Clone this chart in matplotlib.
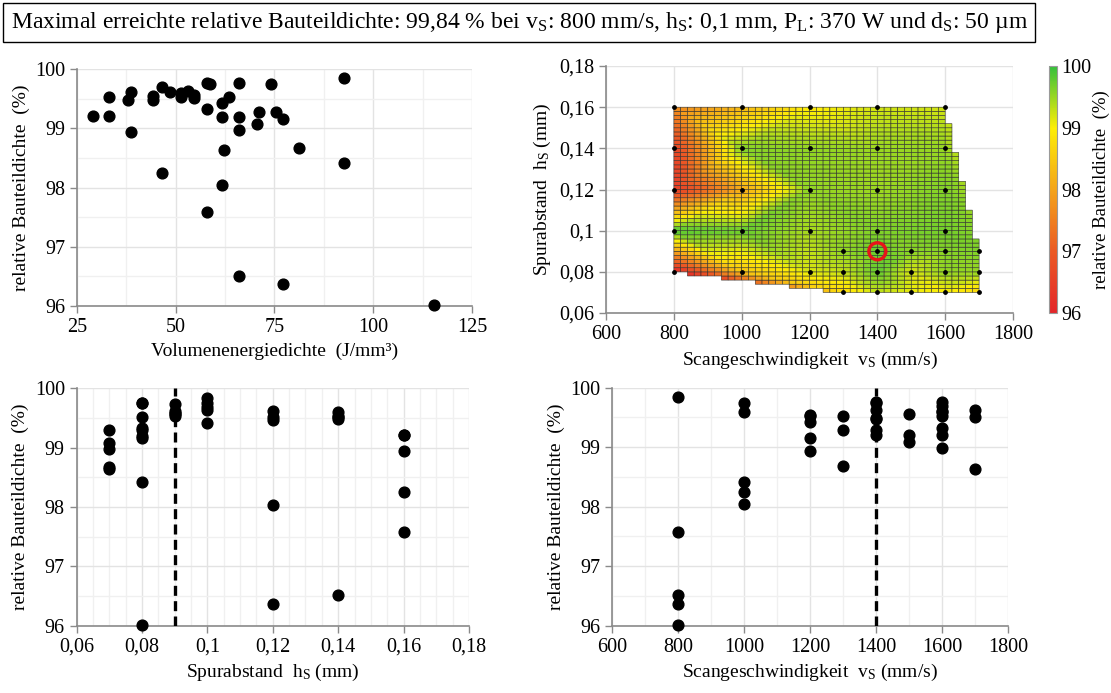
import numpy as np
import pandas as pd
import matplotlib
matplotlib.use("Agg")
import matplotlib.pyplot as plt
import matplotlib.tri as mtri
from matplotlib.colors import LinearSegmentedColormap
from matplotlib.ticker import FuncFormatter, MultipleLocator

plt.rcParams["font.family"] = ["Liberation Serif", "DejaVu Serif"]
plt.rcParams["mathtext.fontset"] = "custom"
plt.rcParams["mathtext.rm"] = "Liberation Serif"
plt.rcParams["mathtext.it"] = "Liberation Serif:italic"

# ---------------- Versuchsplan ----------------
# Scangeschwindigkeit v_S (mm/s), Spurabstand h_S (mm), relative Bauteildichte (%)
scan_speed = [800, 800, 800, 800, 800,
              1000, 1000, 1000, 1000, 1000,
              1200, 1200, 1200, 1200, 1200,
              1300, 1300, 1300,
              1400, 1400, 1400, 1400, 1400, 1400, 1400,
              1500, 1500, 1500,
              1600, 1600, 1600, 1600, 1600, 1600, 1600, 1600,
              1700, 1700, 1700]
hatch_distance = [0.08, 0.10, 0.12, 0.14, 0.16,
                  0.08, 0.10, 0.12, 0.14, 0.16,
                  0.08, 0.10, 0.12, 0.14, 0.16,
                  0.07, 0.08, 0.09,
                  0.07, 0.08, 0.09, 0.10, 0.12, 0.14, 0.16,
                  0.07, 0.08, 0.09,
                  0.07, 0.08, 0.09, 0.10, 0.12, 0.14, 0.16, 0.08,
                  0.07, 0.08, 0.09]
density = [96.02, 99.84, 96.37, 96.52, 97.58,
           98.42, 99.75, 98.04, 99.60, 98.25,
           99.16, 99.42, 99.52, 99.54, 98.94,
           98.68, 99.29, 99.53,
           99.29, 99.76, 99.74, 99.63, 99.47, 99.49, 99.21,
           99.08, 99.20, 99.56,
           98.98, 99.33, 99.59, 99.69, 99.61, 99.52, 99.21, 99.76,
           98.64, 99.51, 99.62]

# Volumenenergiedichte (J/mm³) und zugehörige Dichte (%)
energy_density = [29.1, 33.2, 33.2, 37.8, 38.6, 38.6, 44.2, 44.2, 46.4, 46.4,
                  48.5, 51.4, 51.4, 53.0, 54.5, 54.5, 57.9, 58.8, 57.9, 57.9,
                  61.8, 61.8, 61.8, 62.3, 63.4, 66.0, 66.0, 66.0, 66.0, 70.5,
                  71.1, 74.0, 75.5, 77.1, 77.1, 81.3, 92.5, 92.5, 115.5]
energy_rel_density = [99.20, 99.20, 99.52, 99.48, 99.61, 98.94, 99.54, 99.47, 99.69, 98.24,
                      99.61, 99.59, 99.53, 99.63, 99.57, 99.51, 99.76, 99.74, 99.32, 97.58,
                      99.43, 99.19, 98.04, 98.64, 99.53, 99.76, 99.19, 98.97, 96.51, 99.07,
                      99.28, 99.75, 99.28, 99.15, 96.37, 98.67, 99.85, 98.41, 96.01]

# gewählter Parameterpunkt
opt_speed = 1400
opt_hatch = 0.09

df = pd.DataFrame({"v": scan_speed, "h": hatch_distance, "rho": density})

# ---------------- Farbskala ----------------
cmap = LinearSegmentedColormap.from_list(
    "dichte",
    [(0.00, "#e3262a"), (0.25, "#eb5a24"), (0.50, "#f4a41a"),
     (0.75, "#fdee06"), (1.00, "#36c03c")])

fig = plt.figure(figsize=(11.11, 6.93), dpi=100)

TICK_FS = 14.5
LABEL_FS = 14
GRID_MAJOR = "#e3e3e3"
GRID_MINOR = "#f0f0f0"
SPINE = "#8a8a8a"


def comma():
    return FuncFormatter(lambda val, pos: f"{val:g}".replace(".", ","))


def style_axes(ax):
    for side in ("top", "right"):
        ax.spines[side].set_visible(False)
    for side in ("left", "bottom"):
        ax.spines[side].set_color(SPINE)
        ax.spines[side].set_linewidth(1.2)
    ax.tick_params(axis="both", which="major", direction="out", length=5,
                   color=SPINE, labelsize=TICK_FS, width=1.0)
    ax.tick_params(axis="both", which="minor", length=0)
    ax.grid(True, which="major", color=GRID_MAJOR, linewidth=1.0)
    ax.grid(True, which="minor", color=GRID_MINOR, linewidth=1.0)
    ax.set_axisbelow(True)


def density_axis(ax):
    ax.set_ylim(96, 100)
    ax.yaxis.set_major_locator(MultipleLocator(1))
    ax.yaxis.set_minor_locator(MultipleLocator(0.5))
    ax.set_ylabel("relative Bauteildichte  (%)", fontsize=LABEL_FS)


MS = 60

# ---------------- oben links: Energiedichte ----------------
ax1 = fig.add_axes([0.0693, 0.5584, 0.3555, 0.342])
ax1.scatter(energy_density, energy_rel_density, s=MS, color="black", zorder=3,
            clip_on=False)
ax1.set_xlim(25, 125)
ax1.xaxis.set_major_locator(MultipleLocator(25))
ax1.xaxis.set_minor_locator(MultipleLocator(12.5))
density_axis(ax1)
ax1.set_xlabel("Volumenenergiedichte  (J/mm³)", fontsize=LABEL_FS)
style_axes(ax1)

# ---------------- oben rechts: Dichtekarte ----------------
ax2 = fig.add_axes([0.5455, 0.5483, 0.3663, 0.3564])
grid_pts = df.groupby(["v", "h"], as_index=False)["rho"].mean()
# Triangulierung in normierten Koordinaten, Interpolation in Datenkoordinaten
tri_norm = mtri.Triangulation(grid_pts["v"] / 100.0, grid_pts["h"] * 100.0)
tri = mtri.Triangulation(grid_pts["v"], grid_pts["h"], tri_norm.triangles)
interp = mtri.LinearTriInterpolator(tri, grid_pts["rho"])

v_edges = np.arange(800, 1700 + 1e-6, 20)
h_edges = np.arange(0.07, 0.16 + 1e-9, 0.002)
vc = 0.5 * (v_edges[:-1] + v_edges[1:])
hc = 0.5 * (h_edges[:-1] + h_edges[1:])
VC, HC = np.meshgrid(vc, hc)
Z = interp(VC, HC)

mesh = ax2.pcolor(v_edges, h_edges, Z, cmap=cmap, vmin=96, vmax=100,
                  edgecolors="#2e2e2e", linewidth=0.4, zorder=2)
ax2.scatter(grid_pts["v"], grid_pts["h"], s=6, color="black", zorder=4,
            clip_on=False)
ax2.scatter([opt_speed], [opt_hatch], s=150, facecolors="none",
            edgecolors="#e8141a", linewidths=2.4, zorder=5)
ax2.set_xlim(600, 1800)
ax2.set_ylim(0.06, 0.18)
ax2.xaxis.set_major_locator(MultipleLocator(200))
ax2.yaxis.set_major_locator(MultipleLocator(0.02))
ax2.yaxis.set_major_formatter(comma())
ax2.set_xlabel(r"Scangeschwindigkeit  v$_\mathrm{S}$ (mm/s)", fontsize=LABEL_FS)
ax2.set_ylabel(r"Spurabstand  h$_\mathrm{S}$ (mm)", fontsize=LABEL_FS)
style_axes(ax2)

cax = fig.add_axes([0.944, 0.5483, 0.0075, 0.3564])
cb = fig.colorbar(mesh, cax=cax, ticks=[96, 97, 98, 99, 100])
cb.outline.set_edgecolor("#9a9a9a")
cb.outline.set_linewidth(0.8)
cax.tick_params(labelsize=TICK_FS, length=0, pad=3)
cb.set_label("relative Bauteildichte  (%)", fontsize=13.5, labelpad=1)

# ---------------- unten links: Spurabstand ----------------
ax3 = fig.add_axes([0.069, 0.0971, 0.3531, 0.3426])
ax3.scatter(df["h"], df["rho"], s=MS, color="black", zorder=3, clip_on=False)
ax3.axvline(opt_hatch, color="black", linestyle=(0, (3, 1.6)), linewidth=2.4,
            zorder=4)
ax3.set_xlim(0.06, 0.18)
ax3.xaxis.set_major_locator(MultipleLocator(0.02))
ax3.xaxis.set_minor_locator(MultipleLocator(0.005))
ax3.xaxis.set_major_formatter(comma())
density_axis(ax3)
ax3.set_xlabel(r"Spurabstand  h$_\mathrm{S}$ (mm)", fontsize=LABEL_FS)
style_axes(ax3)

# ---------------- unten rechts: Scangeschwindigkeit ----------------
ax4 = fig.add_axes([0.5511, 0.0971, 0.3564, 0.3434])
ax4.scatter(df["v"], df["rho"], s=MS, color="black", zorder=3, clip_on=False)
ax4.axvline(opt_speed, color="black", linestyle=(0, (3, 1.6)), linewidth=2.4,
            zorder=4)
ax4.set_xlim(600, 1800)
ax4.xaxis.set_major_locator(MultipleLocator(200))
ax4.xaxis.set_minor_locator(MultipleLocator(100))
density_axis(ax4)
ax4.set_xlabel(r"Scangeschwindigkeit  v$_\mathrm{S}$ (mm/s)", fontsize=LABEL_FS)
style_axes(ax4)

# ---------------- Kopfzeile ----------------
fig.text(0.0095, 0.968,
         r"Maximal erreichte relative Bauteildichte: 99,84 % bei v$_\mathrm{S}$: 800 mm/s, "
         r"h$_\mathrm{S}$: 0,1 mm, P$_\mathrm{L}$: 370 W und d$_\mathrm{S}$: 50 µm",
         fontsize=17, ha="left", va="center",
         bbox=dict(boxstyle="square,pad=0.3", facecolor="white",
                   edgecolor="black", linewidth=1.0))

fig.savefig("out.png", dpi=100)
